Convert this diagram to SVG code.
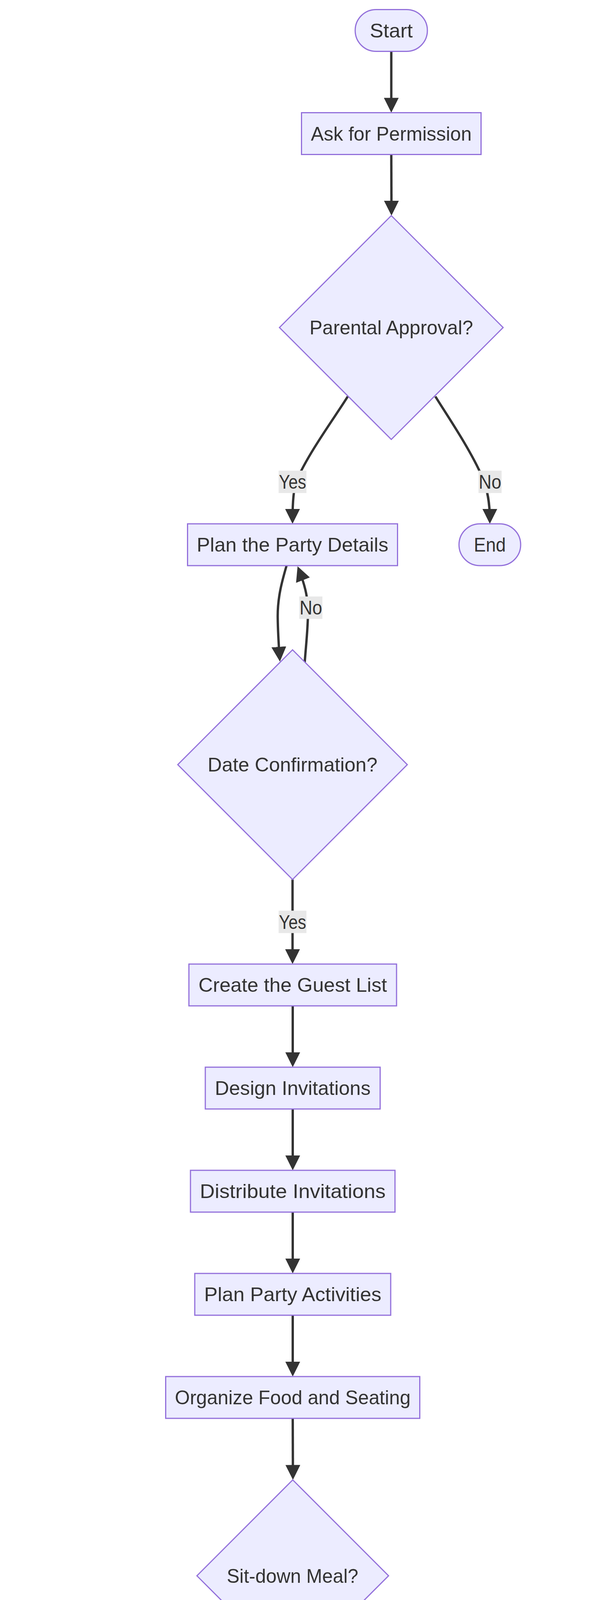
<svg xmlns="http://www.w3.org/2000/svg" width="1568" height="5208" viewBox="0 0 1568 5208">
<style>
.node rect, .node polygon { fill: #ECECFF; stroke: #9370DB; stroke-width: 3; }
.lbl { font-family: "Liberation Sans", Arial, sans-serif; font-size: 49.5px; fill: #333333; text-anchor: middle; }
.edge { fill: none; stroke: #333333; stroke-width: 6; }
.elbg { fill: #E8E8E8; }
</style>
<defs>
<marker id="arrow" viewBox="0 0 10 10" refX="7.4" refY="5" markerWidth="38" markerHeight="38" markerUnits="userSpaceOnUse" orient="auto">
<path d="M0,0 L10,5 L0,10 z" fill="#333333"/>
</marker>
</defs>
<rect x="0" y="0" width="1568" height="5208" fill="#ffffff"/>
<g id="connectors">
<path class="edge" marker-end="url(#arrow)" d="M1002.5,131.5 L1002.5,278.5"/>
<path class="edge" marker-end="url(#arrow)" d="M1002.5,395.5 L1003,542"/>
<path class="edge" marker-end="url(#arrow)" d="M891,1015 C860,1065 790,1160 760,1230 C752,1250 749.5,1290 749.5,1331"/>
<path class="edge" marker-end="url(#arrow)" d="M1115.5,1015 C1140,1055 1205,1150 1235,1220 C1250,1255 1255,1290 1255,1331"/>
<path class="edge" marker-end="url(#arrow)" d="M734,1448.5 C722,1490 711,1530 711.5,1580 C712,1620 714,1650 716.5,1684"/>
<path class="edge" marker-end="url(#arrow)" d="M780.7,1696 C784,1650 790,1600 789,1560 C788,1525 780,1495 766,1459"/>
<path class="edge" marker-end="url(#arrow)" d="M749.5,2251.5 L749.5,2458"/>
<path class="edge" marker-end="url(#arrow)" d="M750,2575 L750,2722"/>
<path class="edge" marker-end="url(#arrow)" d="M750,2839 L750,2986"/>
<path class="edge" marker-end="url(#arrow)" d="M750,3103 L750,3250"/>
<path class="edge" marker-end="url(#arrow)" d="M750,3367 L750,3514"/>
<path class="edge" marker-end="url(#arrow)" d="M750,3631 L750.5,3778.5"/>
<path class="edge" marker-end="url(#arrow)" d="M618.4,4148 C540,4215 460,4283 408,4331 C360,4376 336,4420 335,4484"/>
<path class="edge" marker-end="url(#arrow)" d="M884.3,4148 C940,4195 1010,4255 1060,4307 C1120,4370 1163,4420 1165,4484"/>
<path class="edge" marker-end="url(#arrow)" d="M335,4601 L335,4626 C335,4680 420,4710 572,4754.2"/>
<path class="edge" marker-end="url(#arrow)" d="M1164.5,4601 L1164.5,4626 C1164.5,4680 1080,4710 928,4754.2"/>
<path class="edge" marker-end="url(#arrow)" d="M750,4865 L750,5012"/>
</g>
<g id="edge-labels">
<g id="label-yes-1"><rect class="elbg" x="713.8" y="1204.8" width="71.4" height="57.4"/><text class="lbl" x="749.5" y="1251.2" textLength="70" lengthAdjust="spacingAndGlyphs">Yes</text></g>
<g id="label-no-1"><rect class="elbg" x="1225.9" y="1204.8" width="59.3" height="57.4"/><text class="lbl" x="1255.5" y="1251.2" textLength="58" lengthAdjust="spacingAndGlyphs">No</text></g>
<g id="label-no-2"><rect class="elbg" x="766.7" y="1527" width="59.3" height="57.4"/><text class="lbl" x="796.4" y="1573.4" textLength="58" lengthAdjust="spacingAndGlyphs">No</text></g>
<g id="label-yes-2"><rect class="elbg" x="713.8" y="2331.3" width="71.4" height="57.4"/><text class="lbl" x="749.5" y="2377.7" textLength="70" lengthAdjust="spacingAndGlyphs">Yes</text></g>
<g id="label-yes-3"><rect class="elbg" x="299.1" y="4357.8" width="71.4" height="57.4"/><text class="lbl" x="334.8" y="4404.2" textLength="70" lengthAdjust="spacingAndGlyphs">Yes</text></g>
<g id="label-no-3"><rect class="elbg" x="1135.3" y="4357.8" width="59.3" height="57.4"/><text class="lbl" x="1165" y="4404.2" textLength="58" lengthAdjust="spacingAndGlyphs">No</text></g>
</g>
<g id="start" class="node"><rect x="910" y="24.5" width="185" height="107" rx="53.5" ry="53.5"/><text class="lbl" x="1002.5" y="95.7" textLength="110" lengthAdjust="spacingAndGlyphs">Start</text></g>
<g id="ask" class="node"><rect x="772.5" y="288.5" width="460" height="107"/><text class="lbl" x="1002.5" y="359.7" textLength="412" lengthAdjust="spacingAndGlyphs">Ask for Permission</text></g>
<g id="parental" class="node"><polygon points="1002.5,552 1289,838.5 1002.5,1125 716,838.5"/><text class="lbl" x="1002.5" y="856.2" textLength="419" lengthAdjust="spacingAndGlyphs">Parental Approval?</text></g>
<g id="plan-details" class="node"><rect x="480.5" y="1341" width="538" height="107"/><text class="lbl" x="749.5" y="1412.2" textLength="491" lengthAdjust="spacingAndGlyphs">Plan the Party Details</text></g>
<g id="end-1" class="node"><rect x="1176" y="1341" width="158" height="107" rx="53.5" ry="53.5"/><text class="lbl" x="1255" y="1412.2" textLength="82" lengthAdjust="spacingAndGlyphs">End</text></g>
<g id="date" class="node"><polygon points="749.5,1663.5 1043.5,1957.5 749.5,2251.5 455.5,1957.5"/><text class="lbl" x="749.5" y="1975.2" textLength="435" lengthAdjust="spacingAndGlyphs">Date Confirmation?</text></g>
<g id="guest-list" class="node"><rect x="484" y="2468" width="532" height="107"/><text class="lbl" x="750" y="2539.2" textLength="483" lengthAdjust="spacingAndGlyphs">Create the Guest List</text></g>
<g id="design" class="node"><rect x="526" y="2732" width="448" height="107"/><text class="lbl" x="750" y="2803.2" textLength="399" lengthAdjust="spacingAndGlyphs">Design Invitations</text></g>
<g id="distribute" class="node"><rect x="488" y="2996" width="524" height="107"/><text class="lbl" x="750" y="3067.2" textLength="476" lengthAdjust="spacingAndGlyphs">Distribute Invitations</text></g>
<g id="activities" class="node"><rect x="499" y="3260" width="502" height="107"/><text class="lbl" x="750" y="3331.2" textLength="454" lengthAdjust="spacingAndGlyphs">Plan Party Activities</text></g>
<g id="organize" class="node"><rect x="424.5" y="3524" width="651" height="107"/><text class="lbl" x="750" y="3595.2" textLength="604" lengthAdjust="spacingAndGlyphs">Organize Food and Seating</text></g>
<g id="sitdown" class="node"><polygon points="750,3788.5 995.5,4034 750,4279.5 504.5,4034"/><text class="lbl" x="749.5" y="4051.7" textLength="337" lengthAdjust="spacingAndGlyphs">Sit-down Meal?</text></g>
<g id="dining" class="node"><rect x="24.5" y="4494" width="621" height="107"/><text class="lbl" x="335" y="4565.2" textLength="573" lengthAdjust="spacingAndGlyphs">Set up Dining Room Table</text></g>
<g id="buffet" class="node"><rect x="802" y="4494" width="726" height="107"/><text class="lbl" x="1165" y="4565.2" textLength="677" lengthAdjust="spacingAndGlyphs">Arrange Buffet in Living Room</text></g>
<g id="gratitude" class="node"><rect x="525" y="4758" width="450" height="107"/><text class="lbl" x="750" y="4829.2" textLength="403" lengthAdjust="spacingAndGlyphs">Express Gratitude</text></g>
<g id="end-2" class="node"><rect x="671.5" y="5022" width="156.5" height="107" rx="53.5" ry="53.5"/><text class="lbl" x="749.75" y="5093.2" textLength="82" lengthAdjust="spacingAndGlyphs">End</text></g>
</svg>
